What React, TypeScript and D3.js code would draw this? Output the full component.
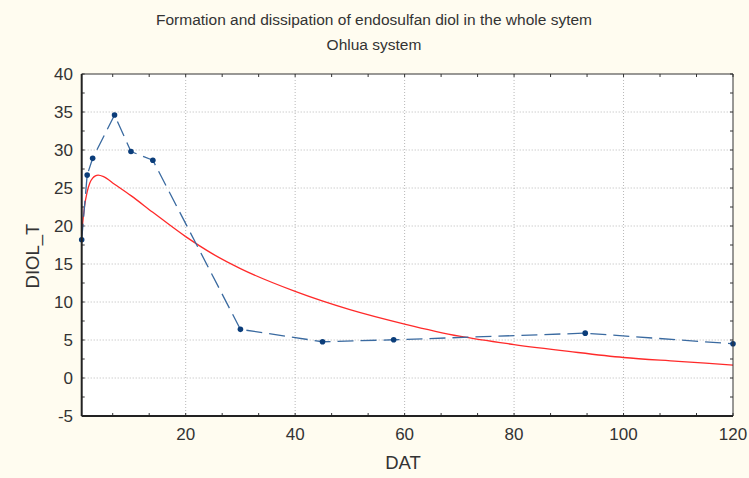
import React from "react";
import * as d3 from "d3";

const obsDays = [1, 2, 3, 7, 10, 14, 30, 45, 58, 93, 120];
const obsDiol = [18.2, 26.7, 28.9, 34.6, 29.8, 28.65, 6.4, 4.77, 5.03, 5.9, 4.5];

const fitDays = [1, 1.5, 2, 2.5, 3, 3.5, 4, 5, 7, 10, 14, 20, 25, 30, 40, 50, 60, 70, 80, 90, 100, 110, 120];
const fitDiol = [19, 22.5, 24.5, 25.7, 26.3, 26.6, 26.7, 26.5, 25.5, 24.0, 21.8, 18.6, 16.3, 14.4, 11.4, 9.0, 7.1, 5.5, 4.4, 3.5, 2.7, 2.2, 1.7];

const xTicks = [20, 40, 60, 80, 100, 120];
const yTicks = [-5, 0, 5, 10, 15, 20, 25, 30, 35, 40];

const W = 749, H = 478;
const L = 81.7, R = 733, T = 74, B = 416;

export default function App() {
  const x = d3.scaleLinear().domain([1, 120]).range([L, R]);
  const y = d3.scaleLinear().domain([-5, 40]).range([B, T]);
  const obs = obsDays.map((d, i) => [d, obsDiol[i]] as [number, number]);
  const fit = fitDays.map((d, i) => [d, fitDiol[i]] as [number, number]);
  const line = d3.line<[number, number]>().x(d => x(d[0])).y(d => y(d[1]));
  const fitLine = d3.line<[number, number]>().x(d => x(d[0])).y(d => y(d[1])).curve(d3.curveMonotoneX);
  const xMinor = d3.range(0, 121, 20 / 3).filter(v => v >= 1 && v <= 120.01);
  const yMinor = d3.range(-5, 40.01, 2.5);
  const font = "'Liberation Sans', Arial, sans-serif";
  return (
    <svg width={W} height={H} style={{ position: "absolute", left: 0, top: 0 }} fontFamily={font}>
      <rect x={0} y={0} width={W} height={H} fill="#fffcf0" />
      <rect x={L} y={T} width={R - L} height={B - T} fill="#ffffff" />
      {xTicks.filter(v => v < 120).map(v => (
        <line key={"gx" + v} x1={x(v)} x2={x(v)} y1={T} y2={B} stroke="#b8b8b8" strokeDasharray="1,2" />
      ))}
      {yTicks.filter(v => v > -5 && v < 40).map(v => (
        <line key={"gy" + v} x1={L} x2={R} y1={y(v)} y2={y(v)} stroke="#b8b8b8" strokeDasharray="1,2" />
      ))}
      {xMinor.map((v, i) => (
        <g key={"xm" + i}>
          <line x1={x(v)} x2={x(v)} y1={B} y2={B - 3} stroke="#333" />
          <line x1={x(v)} x2={x(v)} y1={T} y2={T + 3} stroke="#333" />
        </g>
      ))}
      {yMinor.map((v, i) => (
        <g key={"ym" + i}>
          <line x1={L} x2={L + 3} y1={y(v)} y2={y(v)} stroke="#333" />
          <line x1={R} x2={R - 3} y1={y(v)} y2={y(v)} stroke="#333" />
        </g>
      ))}
      <path d={fitLine(fit) || ""} fill="none" stroke="#ff2a2a" strokeWidth={1.3} />
      <path d={line(obs) || ""} fill="none" stroke="#3a6aa0" strokeWidth={1.3} strokeDasharray="16,7" />
      {obs.map((d, i) => (
        <circle key={"p" + i} cx={x(d[0])} cy={y(d[1])} r={2.8} fill="#0b3d7a" />
      ))}
      <line x1={L} x2={R} y1={T} y2={T} stroke="#333" />
      <line x1={R} x2={R} y1={T} y2={B} stroke="#333" />
      <line x1={L} x2={L} y1={T} y2={B} stroke="#222" strokeWidth={2} />
      <line x1={L} x2={R} y1={B} y2={B} stroke="#222" strokeWidth={2} />
      {yTicks.map(v => (
        <text key={"yl" + v} x={73} y={y(v) + 6} textAnchor="end" fontSize={17} fill="#333">{v}</text>
      ))}
      {xTicks.map(v => (
        <text key={"xl" + v} x={x(v)} y={439.5} textAnchor="middle" fontSize={17} fill="#333">{v}</text>
      ))}
      <text x={403} y={469} textAnchor="middle" fontSize={18.5} fill="#333">DAT</text>
      <text transform={`translate(38.5,${256}) rotate(-90)`} textAnchor="middle" fontSize={18.5} fill="#333">DIOL_T</text>
      <text x={374} y={25} textAnchor="middle" fontSize={15.5} fill="#333">Formation and dissipation of endosulfan diol in the whole sytem</text>
      <text x={374} y={50} textAnchor="middle" fontSize={15.5} fill="#333">Ohlua system</text>
    </svg>
  );
}
